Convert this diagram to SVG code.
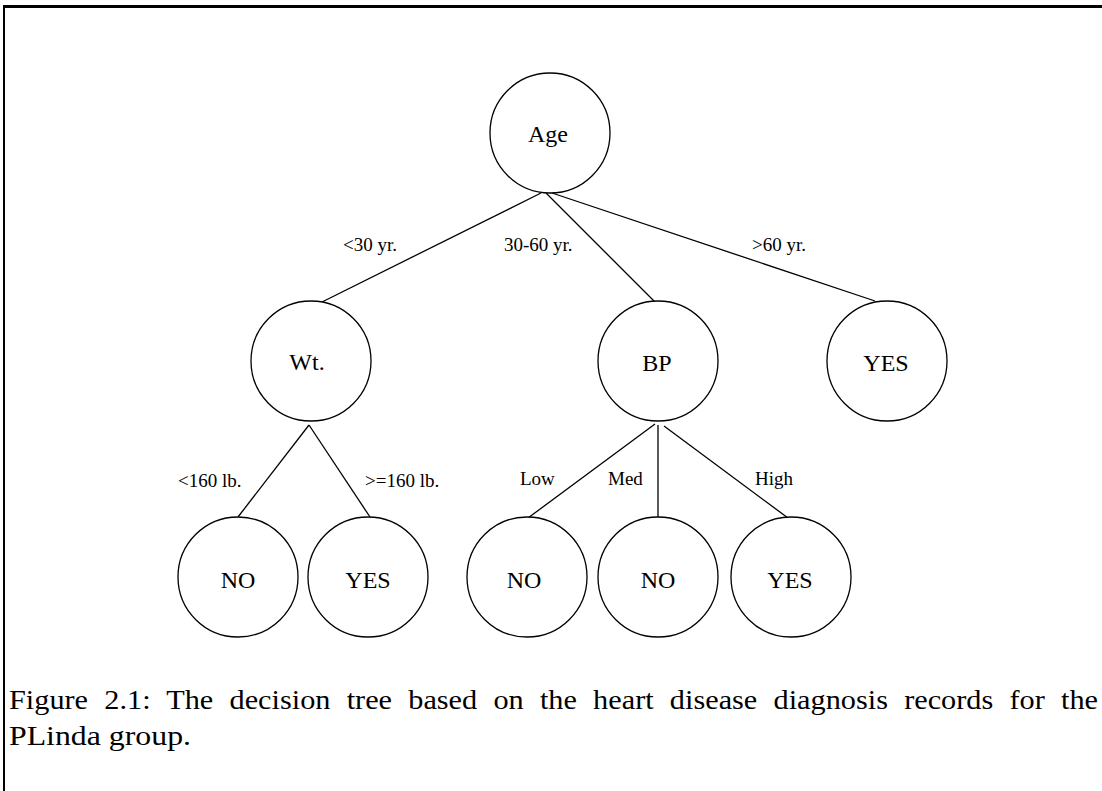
<svg xmlns="http://www.w3.org/2000/svg" width="1102" height="791" viewBox="0 0 1102 791">
  <style>
    .node circle { fill: #ffffff; stroke: #000000; stroke-width: 1.3; }
    .node text { font-family: "Liberation Serif", "Times New Roman", serif; font-size: 24px; text-anchor: middle; fill: #000000; }
    .edges line { stroke: #000000; stroke-width: 1.3; }
    .elabel { font-family: "Liberation Serif", "Times New Roman", serif; font-size: 19px; fill: #000000; }
    .caption { font-family: "Liberation Serif", "DejaVu Serif", serif; font-size: 28px; fill: #000000; }
    .frame { stroke: #000000; fill: none; }
  </style>
  <rect width="1102" height="791" fill="#ffffff"/>

  <!-- page frame -->
  <line class="frame" x1="4" y1="6.5" x2="1102" y2="6.5" stroke-width="3"/>
  <line class="frame" x1="4" y1="5" x2="4" y2="791" stroke-width="2"/>

  <!-- branches -->
  <g class="edges" id="edges">
    <line x1="541" y1="193" x2="322" y2="302"/>
    <line x1="546" y1="193" x2="655" y2="302"/>
    <line x1="552" y1="193" x2="875" y2="301"/>
    <line x1="309" y1="425" x2="238" y2="517"/>
    <line x1="309" y1="425" x2="370" y2="517"/>
    <line x1="655" y1="424" x2="528" y2="518"/>
    <line x1="658" y1="425" x2="658" y2="518"/>
    <line x1="664" y1="426" x2="788" y2="518"/>
  </g>

  <!-- branch labels -->
  <g id="edge-labels">
    <text class="elabel" x="343" y="251">&lt;30 yr.</text>
    <text class="elabel" x="504" y="251">30-60 yr.</text>
    <text class="elabel" x="752" y="251">&gt;60 yr.</text>
    <text class="elabel" x="178" y="487">&lt;160 lb.</text>
    <text class="elabel" x="365" y="487">&gt;=160 lb.</text>
    <text class="elabel" x="520" y="485">Low</text>
    <text class="elabel" x="608" y="485">Med</text>
    <text class="elabel" x="755" y="485">High</text>
  </g>

  <!-- tree nodes -->
  <g class="node" id="node-age">
    <circle cx="550" cy="133" r="60"/>
    <text x="548" y="142">Age</text>
  </g>
  <g class="node" id="node-wt">
    <circle cx="311" cy="361" r="60"/>
    <text x="307" y="370">Wt.</text>
  </g>
  <g class="node" id="node-bp">
    <circle cx="658" cy="361" r="60"/>
    <text x="657" y="371">BP</text>
  </g>
  <g class="node" id="node-yes-age">
    <circle cx="887" cy="361" r="60"/>
    <text x="886" y="371">YES</text>
  </g>
  <g class="node" id="node-no-wt">
    <circle cx="238" cy="577" r="60"/>
    <text x="238" y="588">NO</text>
  </g>
  <g class="node" id="node-yes-wt">
    <circle cx="368" cy="577" r="60"/>
    <text x="368" y="588">YES</text>
  </g>
  <g class="node" id="node-no-low">
    <circle cx="527" cy="577" r="60"/>
    <text x="524" y="588">NO</text>
  </g>
  <g class="node" id="node-no-med">
    <circle cx="658" cy="577" r="60"/>
    <text x="658" y="588">NO</text>
  </g>
  <g class="node" id="node-yes-high">
    <circle cx="791" cy="577" r="60"/>
    <text x="790" y="588">YES</text>
  </g>

  <!-- caption, first line justified to the full width -->
  <text class="caption" x="9" y="709" word-spacing="8" textLength="1089" lengthAdjust="spacingAndGlyphs">Figure 2.1: The decision tree based on the heart disease diagnosis records for the</text>
  <text class="caption" x="9" y="745" textLength="182" lengthAdjust="spacingAndGlyphs">PLinda group.</text>
</svg>
